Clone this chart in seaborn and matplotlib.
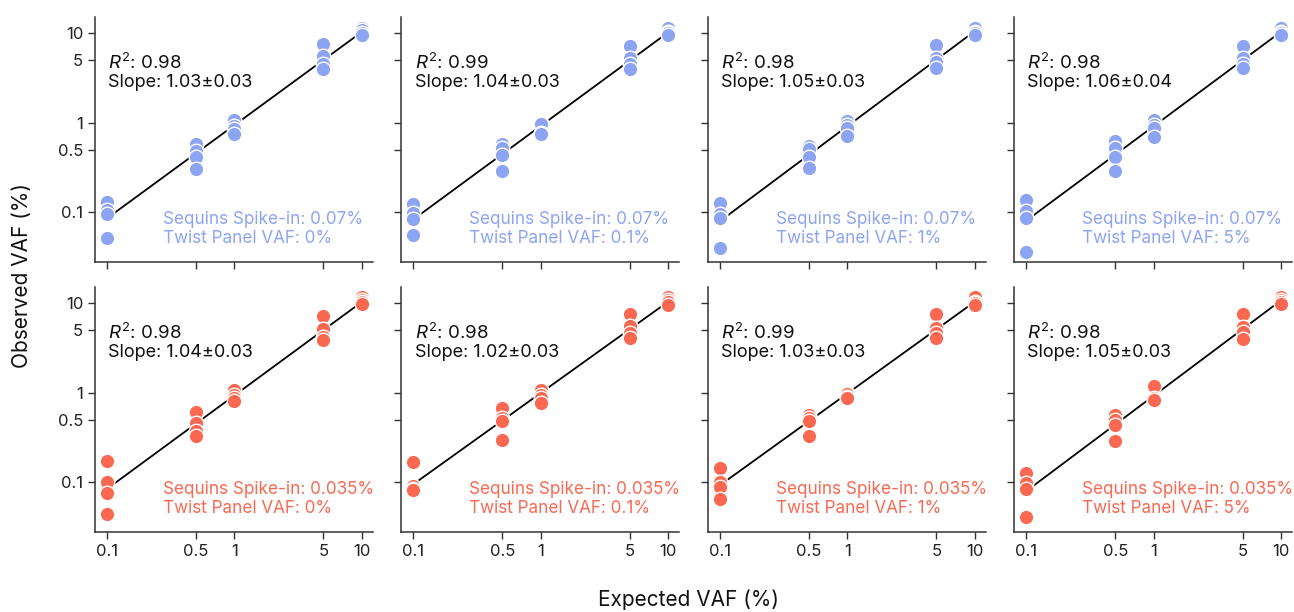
import numpy as np
import pandas as pd
import matplotlib
matplotlib.use("Agg")
import matplotlib.pyplot as plt
import seaborn as sns

# ---------------- data ----------------
expected_levels = [0.1, 0.5, 1, 5, 10]
replicates = 4

spike_in = ["0.07%", "0.035%"]
twist_vaf = ["0%", "0.1%", "1%", "5%"]

# observed VAF per panel, grouped by expected level (4 replicates each)
obs_top_0 = [0.129, 0.106, 0.095, 0.051,  0.578, 0.487, 0.417, 0.304,  1.07, 0.92, 0.85, 0.75,
             7.57, 5.61, 4.53, 3.98,  11.6, 10.8, 10.0, 9.5]
obs_top_1 = [0.124, 0.097, 0.084, 0.055,  0.578, 0.52, 0.439, 0.29,  1.0, 0.98, 0.78, 0.75,
             7.25, 5.37, 4.53, 3.98,  11.4, 10.5, 10.0, 9.6]
obs_top_2 = [0.127, 0.095, 0.086, 0.040,  0.553, 0.508, 0.42, 0.312,  1.05, 0.95, 0.886, 0.716,
             7.45, 5.37, 4.79, 4.09,  11.4, 10.5, 10.0, 9.6]
obs_top_3 = [0.137, 0.104, 0.086, 0.036,  0.63, 0.52, 0.417, 0.286,  1.07, 0.95, 0.886, 0.70,
             7.25, 5.37, 4.53, 4.09,  11.4, 10.5, 10.0, 9.6]
obs_bot_0 = [0.171, 0.102, 0.076, 0.044,  0.606, 0.461, 0.371, 0.333,  1.09, 0.957, 0.88, 0.806,
             7.21, 5.12, 4.24, 3.9,  11.9, 10.8, 10.3, 9.8]
obs_bot_1 = [0.167, 0.090, 0.085, 0.081,  0.68, 0.52, 0.49, 0.30,  1.09, 0.95, 0.88, 0.77,
             7.67, 5.57, 4.70, 4.13,  11.9, 11.0, 10.3, 9.6]
obs_bot_2 = [0.145, 0.102, 0.089, 0.065,  0.571, 0.53, 0.481, 0.333,  1.0, 0.97, 0.9, 0.88,
             7.67, 5.3, 4.70, 4.13,  11.9, 10.5, 10.0, 9.6]
obs_bot_3 = [0.127, 0.098, 0.084, 0.041,  0.571, 0.503, 0.434, 0.287,  1.19, 0.87, 0.84, 0.84,
             7.67, 5.4, 4.78, 4.0,  11.9, 11.0, 10.3, 9.8]

observed = [[obs_top_0, obs_top_1, obs_top_2, obs_top_3],
            [obs_bot_0, obs_bot_1, obs_bot_2, obs_bot_3]]

r2_labels = [["0.98", "0.99", "0.98", "0.98"],
             ["0.98", "0.98", "0.99", "0.98"]]
slope_labels = [["1.03±0.03", "1.04±0.03", "1.05±0.03", "1.06±0.04"],
                ["1.04±0.03", "1.02±0.03", "1.03±0.03", "1.05±0.03"]]

tick_values = [0.1, 0.5, 1, 5, 10]
tick_labels = ["0.1", "0.5", "1", "5", "10"]

row_colors = ["#8DA4F2", "#FA6852"]

# ---------------- style ----------------
sns.set_theme(style="ticks")
plt.rcParams["font.family"] = ["Inter", "DejaVu Sans"]
plt.rcParams["mathtext.fontset"] = "custom"
plt.rcParams["mathtext.rm"] = "Inter"
plt.rcParams["mathtext.it"] = "Inter:italic"

expected = np.repeat(expected_levels, replicates)

fig, axes = plt.subplots(2, 4, figsize=(12.94, 6.12), dpi=100, sharex=True, sharey=True)
fig.subplots_adjust(left=0.0734, right=0.9985, top=0.9727, bottom=0.1312,
                    wspace=0.104, hspace=0.102)

spine_col = "#333333"
for r in range(2):
    for c in range(4):
        ax = axes[r, c]
        df = pd.DataFrame({"expected": expected, "observed": observed[r][c]})
        sns.scatterplot(data=df, x="expected", y="observed", ax=ax, color=row_colors[r],
                        s=110, edgecolor="white", linewidth=1.0, zorder=3)
        # log-log regression line
        lx = np.log10(df["expected"].to_numpy())
        ly = np.log10(df["observed"].to_numpy())
        k, b = np.polyfit(lx, ly, 1)
        xs = np.array([min(expected_levels), max(expected_levels)])
        ax.plot(xs, 10 ** (b + k * np.log10(xs)), color="black", lw=1.3, zorder=2)

        ax.set_xscale("log")
        ax.set_yscale("log")
        ax.set_xlim(0.0805, 12.2)
        ax.set_ylim(0.028, 15.4)
        ax.set_xticks(tick_values)
        ax.set_yticks(tick_values)
        ax.xaxis.set_minor_locator(matplotlib.ticker.NullLocator())
        ax.yaxis.set_minor_locator(matplotlib.ticker.NullLocator())
        ax.set_xticklabels(tick_labels)
        ax.set_yticklabels(tick_labels)
        ax.tick_params(labelsize=12, colors="#222222", length=5, width=1, color=spine_col)
        sns.despine(ax=ax)
        for sp in ["left", "bottom"]:
            ax.spines[sp].set_color(spine_col)
            ax.spines[sp].set_linewidth(1.1)
        ax.set_xlabel("")
        ax.set_ylabel("")

        ax.text(0.047, 0.81, r"$R^2$: " + r2_labels[r][c], transform=ax.transAxes,
                fontsize=13.5, va="center", ha="left", color="#111111")
        ax.text(0.047, 0.733, "Slope: " + slope_labels[r][c], transform=ax.transAxes,
                fontsize=13, va="center", ha="left", color="#111111")
        ax.text(0.245, 0.172, "Sequins Spike-in: " + spike_in[r], transform=ax.transAxes,
                fontsize=12.3, va="center", ha="left", color=row_colors[r])
        ax.text(0.245, 0.095, "Twist Panel VAF: " + twist_vaf[c], transform=ax.transAxes,
                fontsize=12.3, va="center", ha="left", color=row_colors[r])

fig.text(0.532, 0.02, "Expected VAF (%)", ha="center", va="center", fontsize=15, color="#111111")
fig.text(0.017, 0.55, "Observed VAF (%)", ha="center", va="center", rotation=90,
         fontsize=15, color="#111111")

fig.savefig("out.png", dpi=100)
